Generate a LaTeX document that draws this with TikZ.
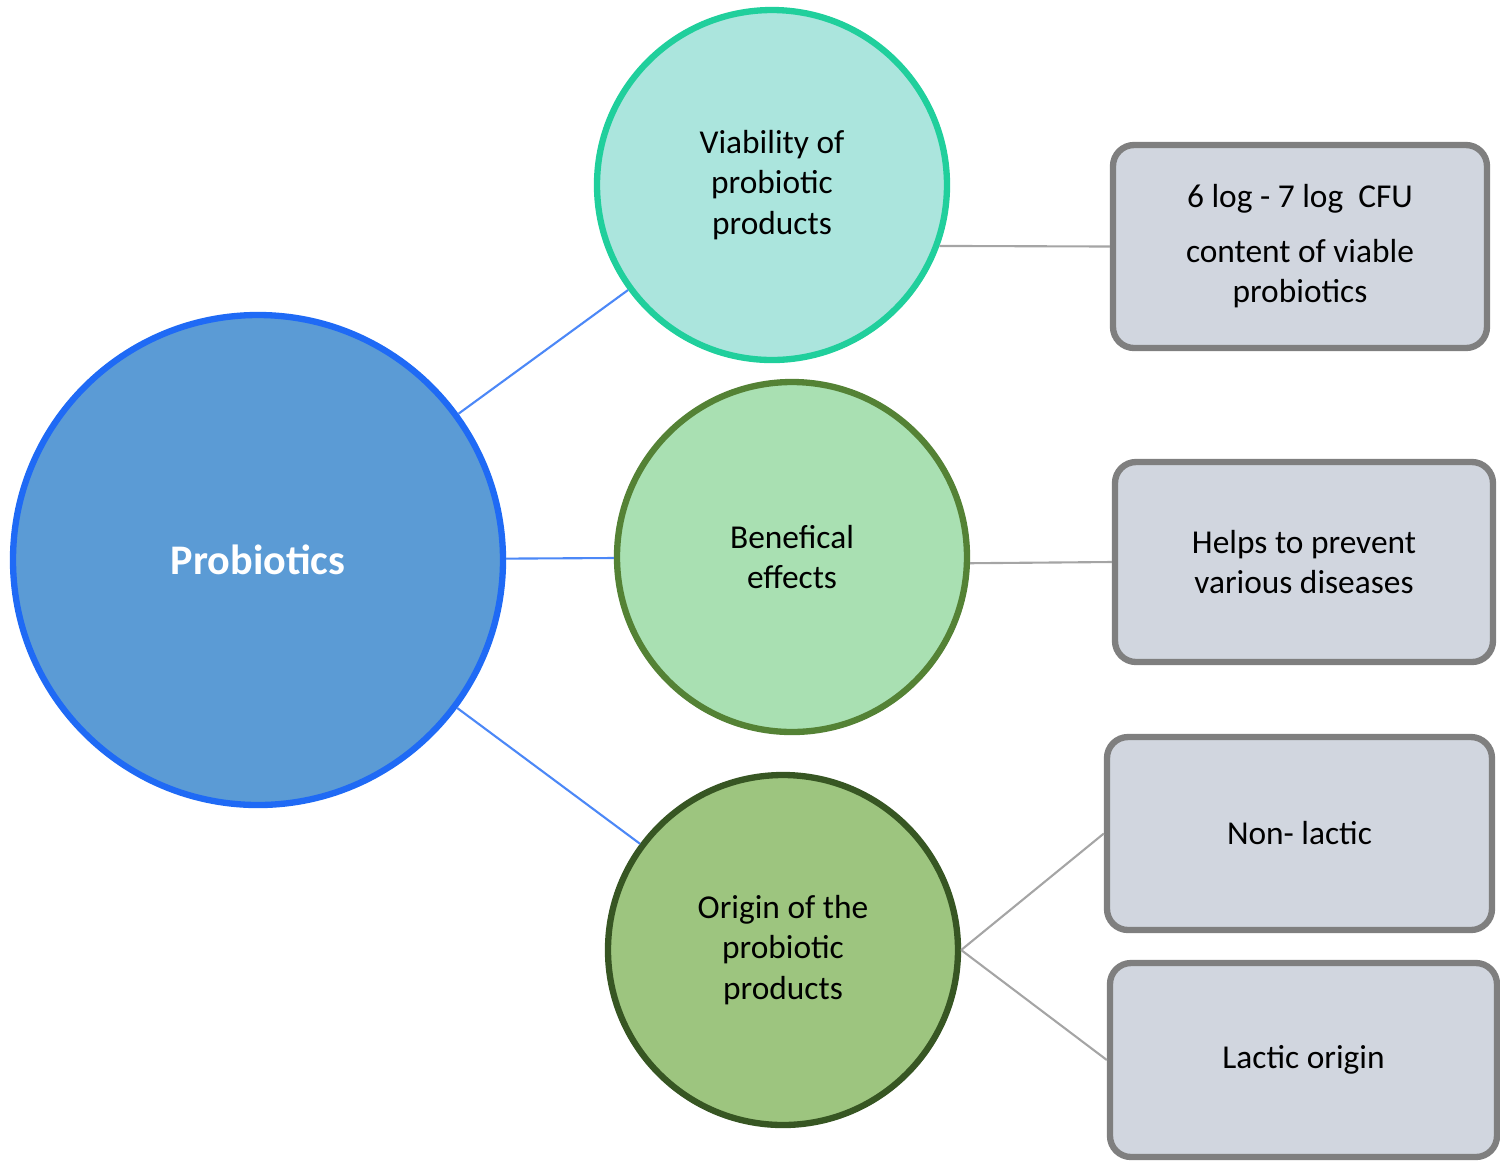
\documentclass[tikz,border=0pt]{standalone}
\usepackage{fontspec}
\setmainfont{Carlito}
\definecolor{bigfill}{HTML}{5B9BD5}
\definecolor{bigdraw}{HTML}{1F6AF5}
\definecolor{viafill}{HTML}{ABE5DD}
\definecolor{viadraw}{HTML}{20CF9C}
\definecolor{benfill}{HTML}{A9E0B2}
\definecolor{bendraw}{HTML}{548235}
\definecolor{orifill}{HTML}{9DC57F}
\definecolor{oridraw}{HTML}{375623}
\definecolor{boxfill}{HTML}{D1D6DF}
\definecolor{boxdraw}{HTML}{7F7F7F}
\tikzset{
  topic/.style={circle,line width=1.8pt,minimum size=3.5cm,align=center,font=\fontsize{9.5}{11.5}\selectfont},
  leaf/.style={draw=boxdraw,fill=boxfill,rounded corners=6pt,line width=1.8pt,align=center,font=\fontsize{9.5}{11.5}\selectfont},
  link/.style={line width=0.6pt}
}
\begin{document}
\begin{tikzpicture}
\useasboundingbox (0,0) rectangle (15,-11.65);
\node[topic,draw=bigdraw,fill=bigfill,minimum size=4.9cm,text=white,font=\fontsize{12}{14}\bfseries] (pro) at (2.58,-5.60) {Probiotics};
\node[topic,draw=viadraw,fill=viafill] (via) at (7.72,-1.85) {Viability of\\probiotic\\products};
\node[topic,draw=bendraw,fill=benfill] (ben) at (7.92,-5.57) {Benefical\\effects};
\node[topic,draw=oridraw,fill=orifill] (ori) at (7.83,-9.50) {Origin of the\\probiotic\\products};
\node[leaf,minimum width=3.74cm,minimum height=2.03cm] (cfu) at (13.00,-2.465) {6 log - 7 log~ CFU\\[4pt]content of viable\\probiotics};
\node[leaf,minimum width=3.78cm,minimum height=2.00cm] (dis) at (13.04,-5.62) {Helps to prevent\\various diseases};
\node[leaf,minimum width=3.85cm,minimum height=1.93cm] (non) at (12.995,-8.335) {Non- lactic};
\node[leaf,minimum width=3.87cm,minimum height=1.94cm] (lac) at (13.035,-10.60) {Lactic origin};
\draw[link,bigdraw!80] (pro) edge (via);
\draw[link,bigdraw!80] (pro) edge (ben);
\draw[link,bigdraw!80] (pro) edge (ori);
\draw[link,boxdraw!70] (via.-20) edge (cfu.west);
\draw[link,boxdraw!70] (ben.-2) edge (dis.west);
\draw[link,boxdraw!70] (ori.east) edge (non.west);
\draw[link,boxdraw!70] (ori.east) edge (lac.west);
\end{tikzpicture}
\end{document}
